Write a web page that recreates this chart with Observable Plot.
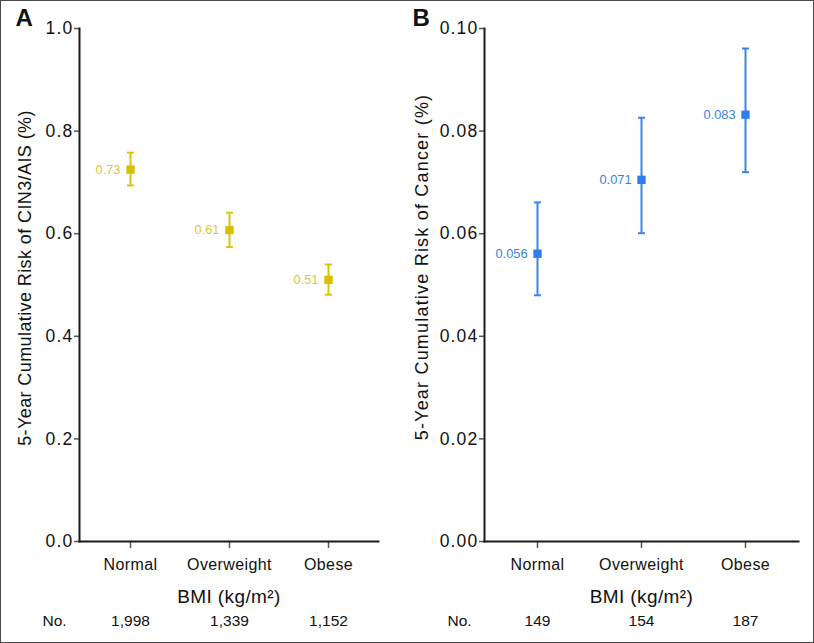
<!DOCTYPE html>
<html>
<head>
<meta charset="utf-8">
<script src="https://cdn.jsdelivr.net/npm/d3@7"></script>
<script src="https://cdn.jsdelivr.net/npm/@observablehq/plot@0.6"></script>
<style>
  html, body { margin: 0; padding: 0; background: #fff; }
  #wrap { position: relative; width: 814px; height: 643px; display: flex; overflow: hidden; }
  #wrap svg { display: block; }
  #border { position: absolute; left: 0; top: 0; width: 814px; height: 643px; box-sizing: border-box; border: 1px solid #4a4a4a; pointer-events: none; }
  g[aria-label="y-axis tick label"] text { letter-spacing: 1.2px; }
  g[aria-label="x-axis tick label"] text { letter-spacing: 0.4px; }
</style>
</head>
<body>
<div id="wrap"><div id="border"></div></div>
<script>
const categories = ["Normal", "Overweight", "Obese"];

const cinEstimate = [0.725, 0.607, 0.510];
const cinLower = [0.694, 0.574, 0.481];
const cinUpper = [0.758, 0.641, 0.540];
const cinLabels = ["0.73", "0.61", "0.51"];
const cinCounts = ["1,998", "1,339", "1,152"];
const cinTicks = [0, 0.2, 0.4, 0.6, 0.8, 1.0];

const cancerEstimate = [0.0561, 0.0705, 0.0832];
const cancerLower = [0.0480, 0.0601, 0.0720];
const cancerUpper = [0.0661, 0.0826, 0.0961];
const cancerLabels = ["0.056", "0.071", "0.083"];
const cancerCounts = ["149", "154", "187"];
const cancerTicks = [0, 0.02, 0.04, 0.06, 0.08, 0.10];

const capSymbol = {
  draw(ctx, size) {
    const w = Math.sqrt(size);
    ctx.moveTo(-w / 2, 0);
    ctx.lineTo(w / 2, 0);
  }
};

function panel(cfg) {
  const data = categories.map((c, i) => ({
    cat: c, est: cfg.est[i], lo: cfg.lo[i], hi: cfg.hi[i], label: cfg.labels[i], count: cfg.counts[i]
  }));
  const font = "'Liberation Sans', Arial, Helvetica, sans-serif";
  const plot = Plot.plot({
    width: cfg.width,
    height: 643,
    marginLeft: 79,
    marginRight: cfg.marginRight,
    marginTop: 28,
    marginBottom: 102,
    style: { fontFamily: font, color: "#111", background: "transparent", overflow: "visible" },
    x: { type: "point", domain: categories, padding: 0.5, label: null },
    y: { domain: cfg.domain, label: null },
    marks: [
      Plot.axisY({ ticks: cfg.ticks, tickFormat: cfg.fmt, tickSize: 5, tickPadding: 1, fontSize: 17.5, stroke: "#555", strokeWidth: 1.5, label: null }),
      Plot.axisX({ tickSize: 7, tickPadding: 10, fontSize: 16, stroke: "#555", strokeWidth: 1.5, label: null }),
      Plot.frame({ anchor: "left", stroke: "#1a1a1a", strokeWidth: 2 }),
      Plot.frame({ anchor: "bottom", stroke: "#1a1a1a", strokeWidth: 2 }),
      Plot.ruleX(data, { x: "cat", y1: "lo", y2: "hi", stroke: cfg.barColor, strokeWidth: 2 }),
      Plot.dot(data, { x: "cat", y: "lo", symbol: capSymbol, r: 3.9, stroke: cfg.barColor, strokeWidth: 2, fill: "none" }),
      Plot.dot(data, { x: "cat", y: "hi", symbol: capSymbol, r: 3.9, stroke: cfg.barColor, strokeWidth: 2, fill: "none" }),
      Plot.dot(data, { x: "cat", y: "est", symbol: "square", r: 4.7, fill: cfg.color, stroke: null }),
      Plot.text(data, { x: "cat", y: "est", text: "label", textAnchor: "end", dx: -10, fill: cfg.labelColor, fontSize: 12.8 }),
      Plot.text([cfg.ylabel], { text: d => d, frameAnchor: "left", rotate: -90, textAnchor: "middle", lineAnchor: "middle", dx: cfg.ylabelDx, dy: cfg.ylabelDy, fontSize: 18, fill: "#111" }),
      Plot.text(["BMI (kg/m²)"], { text: d => d, frameAnchor: "bottom", lineAnchor: "middle", dy: 55, fontSize: 19, fill: "#111" }),
      Plot.text(data, { x: "cat", text: "count", frameAnchor: "bottom", lineAnchor: "middle", dy: 80, fontSize: 15.5, fill: "#111" }),
      Plot.text(["No."], { text: d => d, frameAnchor: "bottom-left", lineAnchor: "middle", dx: cfg.noDx, dy: 80, textAnchor: "start", fontSize: 15.5, fill: "#111" }),
      Plot.text([cfg.letter], { text: d => d, frameAnchor: "top-left", lineAnchor: "middle", dx: cfg.letterDx, dy: -10, textAnchor: "start", fontSize: 24, fontWeight: "bold", fill: "#111" })
    ]
  });
  const groups = plot.querySelectorAll('g[aria-label="text"]');
  const spacing = [0, cfg.ylabelLs, 0.4, 0, 0, 0];
  groups.forEach((g, i) => { g.style.letterSpacing = spacing[i] + "px"; });
  return plot;
}

const wrap = document.getElementById("wrap");
const border = document.getElementById("border");

wrap.insertBefore(panel({
  width: 405, marginRight: 27, domain: [0, 1.0], ticks: cinTicks, fmt: d3.format(".1f"),
  est: cinEstimate, lo: cinLower, hi: cinUpper, labels: cinLabels, counts: cinCounts,
  color: "#d6c000", barColor: "#d8c316", labelColor: "#d9c83a",
  ylabel: "5-Year Cumulative Risk of CIN3/AIS (%)", ylabelDx: -54, ylabelDy: -7, ylabelLs: 0.4,
  noDx: -37, letterDx: -64, letter: "A"
}), border);

wrap.insertBefore(panel({
  width: 409, marginRight: 16, domain: [0, 0.10], ticks: cancerTicks, fmt: d3.format(".2f"),
  est: cancerEstimate, lo: cancerLower, hi: cancerUpper, labels: cancerLabels, counts: cancerCounts,
  color: "#2f7cf0", barColor: "#3a82e6", labelColor: "#3d80dc",
  ylabel: "5-Year Cumulative Risk of Cancer (%)", ylabelDx: -62.5, ylabelDy: -18, ylabelLs: 1.2,
  noDx: -37, letterDx: -72, letter: "B"
}), border);
</script>
</body>
</html>
